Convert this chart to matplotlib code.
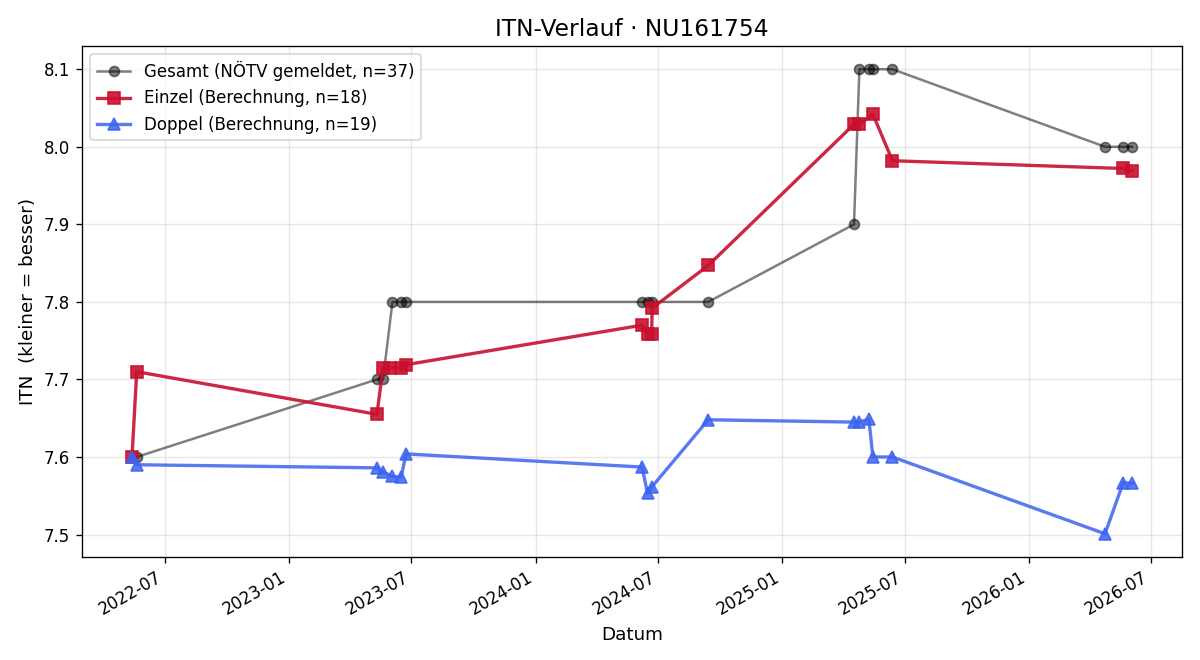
import matplotlib
matplotlib.use("Agg")
import matplotlib.pyplot as plt
import matplotlib.dates as mdates
import pandas as pd

gesamt_dates = ["2022-05-20", "2023-05-11", "2023-05-20", "2023-06-03", "2023-06-16", "2023-06-23",
                "2024-06-07", "2024-06-15", "2024-06-21", "2024-09-13", "2025-04-17", "2025-04-25",
                "2025-05-09", "2025-05-15", "2025-06-13", "2026-04-24", "2026-05-21", "2026-06-03"]
gesamt_vals = [7.6, 7.7, 7.7, 7.8, 7.8, 7.8, 7.8, 7.8, 7.8, 7.8, 7.9, 8.1, 8.1, 8.1, 8.1, 8.0, 8.0, 8.0]

einzel_dates = ["2022-05-13", "2022-05-20", "2023-05-11", "2023-05-20", "2023-05-30", "2023-06-16",
                "2023-06-23", "2024-06-07", "2024-06-15", "2024-06-21", "2024-06-22", "2024-09-13",
                "2025-04-17", "2025-04-25", "2025-05-15", "2025-06-13", "2026-05-21", "2026-06-03"]
einzel_vals = [7.600, 7.710, 7.655, 7.715, 7.715, 7.715, 7.719, 7.770, 7.759, 7.759, 7.792, 7.847,
               8.029, 8.029, 8.042, 7.982, 7.972, 7.969]

doppel_dates = ["2022-05-13", "2022-05-20", "2023-05-11", "2023-05-20", "2023-06-03", "2023-06-16",
                "2023-06-23", "2024-06-07", "2024-06-15", "2024-06-21", "2024-09-13", "2025-04-17",
                "2025-04-25", "2025-05-09", "2025-05-15", "2025-06-13", "2026-04-24", "2026-05-21",
                "2026-06-03"]
doppel_vals = [7.600, 7.590, 7.586, 7.581, 7.575, 7.574, 7.604, 7.587, 7.553, 7.561, 7.648, 7.645,
               7.645, 7.649, 7.600, 7.600, 7.501, 7.567, 7.566]

labels = ["Gesamt (NÖTV gemeldet, n=37)", "Einzel (Berechnung, n=18)", "Doppel (Berechnung, n=19)"]

fig, ax = plt.subplots(figsize=(10, 5.5), dpi=120)
ax.plot(pd.to_datetime(gesamt_dates), gesamt_vals, marker="o", color="black", alpha=0.5,
        linewidth=1.5, markersize=6, label=labels[0])
ax.plot(pd.to_datetime(einzel_dates), einzel_vals, marker="s", color="#C8102E", alpha=0.9,
        linewidth=2, markersize=7, label=labels[1])
ax.plot(pd.to_datetime(doppel_dates), doppel_vals, marker="^", color="#3D63F0", alpha=0.85,
        linewidth=2, markersize=7, label=labels[2])

ax.set_title("ITN-Verlauf · NU161754", fontsize=14)
ax.set_xlabel("Datum", fontsize=11)
ax.set_ylabel("ITN  (kleiner = besser)", fontsize=11)
ax.grid(True, alpha=0.3)
ax.legend(loc="upper left", fontsize=10)
ax.xaxis.set_major_locator(mdates.MonthLocator(bymonth=[1, 7]))
ax.xaxis.set_major_formatter(mdates.DateFormatter("%Y-%m"))
fig.autofmt_xdate()
fig.subplots_adjust(left=82 / 1200, right=1182 / 1200, top=1 - 46 / 660, bottom=1 - 557 / 660)
fig.savefig("out.png")
